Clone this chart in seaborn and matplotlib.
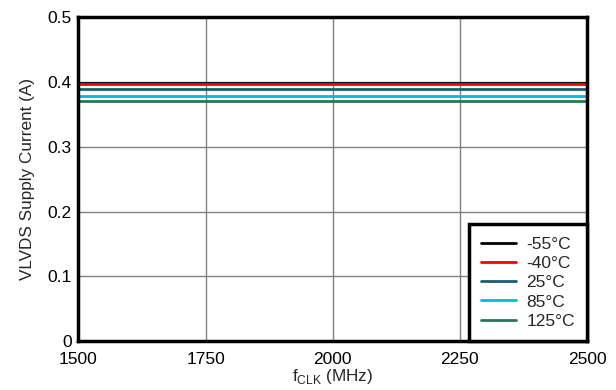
import matplotlib
matplotlib.use("Agg")
import matplotlib.pyplot as plt
import seaborn as sns
import pandas as pd

# Data
freq_mhz = [1500, 1750, 2000, 2250, 2500]
temps = ["-55°C", "-40°C", "25°C", "85°C", "125°C"]
current_m55 = [0.399, 0.399, 0.399, 0.399, 0.399]
current_m40 = [0.397, 0.397, 0.397, 0.397, 0.397]
current_25 = [0.3888, 0.3888, 0.3888, 0.3888, 0.3888]
current_85 = [0.3784, 0.3784, 0.3784, 0.3784, 0.3784]
current_125 = [0.3707, 0.3707, 0.3707, 0.3707, 0.3707]
palette = ["#000000", "#ff0000", "#1d5d72", "#00bcd4", "#2b7556"]

series = [current_m55, current_m40, current_25, current_85, current_125]
rows = []
for t, vals in zip(temps, series):
    for f, v in zip(freq_mhz, vals):
        rows.append({"freq": f, "current": v, "temp": t})
df = pd.DataFrame(rows)

sns.set_theme(style="white")
plt.rcParams['font.family'] = ['Liberation Sans', 'DejaVu Sans']

fig = plt.figure(figsize=(6.16, 3.9), dpi=100)
ax = fig.add_axes([0.1274, 0.1256, 0.8256, 0.83])

sns.lineplot(data=df, x="freq", y="current", hue="temp", hue_order=temps,
             palette=palette, linewidth=2, ax=ax, legend=True)

ax.set_xlim(1500, 2500)
ax.set_ylim(0, 0.5)
ax.set_xticks([1500, 1750, 2000, 2250, 2500])
ax.set_yticks([0, 0.1, 0.2, 0.3, 0.4, 0.5])
ax.set_yticklabels(["0", "0.1", "0.2", "0.3", "0.4", "0.5"])
ax.grid(True, color="#808080", linewidth=1)
ax.set_axisbelow(True)
for s in ax.spines.values():
    s.set_color("black")
    s.set_linewidth(2.5)
    s.set_visible(True)
ax.tick_params(axis="both", labelsize=12.5, colors="black", length=0)
ax.tick_params(axis="y", pad=5)
ax.tick_params(axis="x", pad=8)
ax.set_xlabel(r"f$_{\mathregular{CLK}}$ (MHz)", fontsize=12.3, labelpad=0)
ax.set_ylabel("VLVDS Supply Current (A)", fontsize=12.3, labelpad=9)

leg = ax.legend(loc="lower right", bbox_to_anchor=(1, 0), borderaxespad=0,
                fontsize=12.5, frameon=True, fancybox=False, handlelength=2.0,
                handletextpad=0.6, labelspacing=0.24, borderpad=0.7)
leg.get_frame().set_edgecolor("black")
leg.get_frame().set_linewidth(2.5)
leg.get_frame().set_alpha(1)

fig.savefig("out.png", dpi=100)
